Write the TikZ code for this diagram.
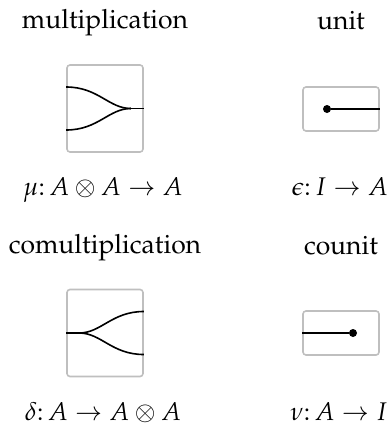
\documentclass[tikz,border=0pt]{standalone}
\usepackage[T1]{fontenc}
\usepackage{mathpazo}
\begin{document}
\begin{tikzpicture}[x=1pt,y=-1pt,
  box/.style={draw=black!25, line width=1.6pt, rounded corners=3pt, inner sep=0pt, minimum width=76pt},
  tallbox/.style={box, minimum height=87pt},
  flatbox/.style={box, minimum height=44pt},
  wire/.style={line width=1.6pt},
  lbl/.style={font=\fontsize{26.5}{30}\selectfont, anchor=base, inner sep=0pt},
  flbl/.style={font=\fontsize{25.5}{30}\selectfont, anchor=base, inner sep=0pt},
  dotnode/.style={circle, fill=black, inner sep=0pt, minimum size=8pt}]
\useasboundingbox (0,0) rectangle (391,426);
% titles
\node[lbl] (t1) at (105,28) {multiplication};
\node[lbl] (t2) at (341,29) {unit};
\node[lbl] (t3) at (105,253) {comultiplication};
\node[lbl] (t4) at (341,254) {counit};
% boxes
\node[tallbox] (m) at (105,108.5) {};
\node[flatbox] (u) at (341,109) {};
\node[tallbox] (c) at (105,333) {};
\node[flatbox] (cu) at (341,333) {};
% multiplication wires
\coordinate (mj) at ([xshift=-13pt]m.east);
\draw[wire] ([yshift=-21.5pt]m.west) .. controls +(32,0) and +(-22,0) .. (mj);
\draw[wire] ([yshift=21.5pt]m.west) .. controls +(32,0) and +(-22,0) .. (mj);
\draw[wire] (mj) -- (m.east);
% unit
\node[dotnode] (ud) at (327,109) {};
\draw[wire] (ud) -- (u.east);
% comultiplication wires
\coordinate (cj) at ([xshift=13pt]c.west);
\draw[wire] (c.west) -- (cj);
\draw[wire] (cj) .. controls +(22,0) and +(-32,0) .. ([yshift=-21.5pt]c.east);
\draw[wire] (cj) .. controls +(22,0) and +(-32,0) .. ([yshift=21.5pt]c.east);
% counit
\node[dotnode] (cd) at (353,333) {};
\draw[wire] (cu.west) -- (cd);
% formulas
\node[flbl] (f1) at (103,195) {$\mu\colon A\otimes A\to A$};
\node[flbl] (f2) at (340,195) {$\epsilon\colon I\to A$};
\node[flbl] (f3) at (103,420) {$\delta\colon A\to A\otimes A$};
\node[flbl] (f4) at (339,420) {$\nu\colon A\to I$};
\end{tikzpicture}
\end{document}
